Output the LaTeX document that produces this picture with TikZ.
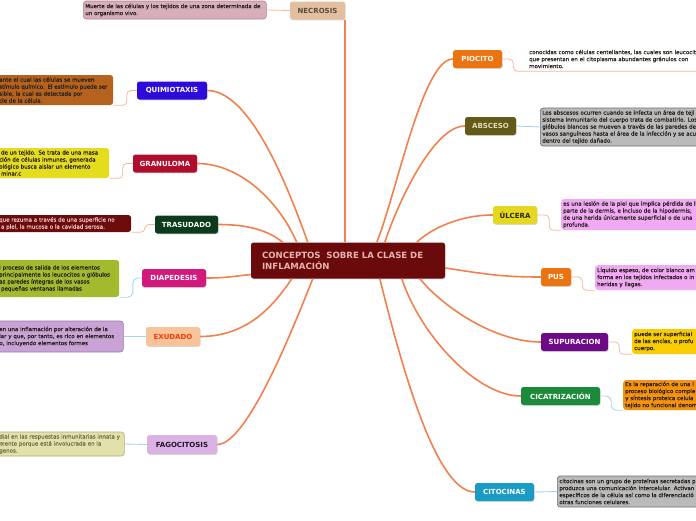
\documentclass[tikz,border=0pt]{standalone}
\usepackage{fontspec}
\setmainfont{DejaVu Sans}
\newfontfamily\notafont{DejaVu Sans}[FakeBold=0.35]
\usetikzlibrary{shadows}

\definecolor{ramaorange}{HTML}{F2804E}
\definecolor{ramitaorange}{HTML}{F7B697}
\definecolor{ramitablue}{HTML}{A6D4EF}
\definecolor{notatexto}{HTML}{221E1A}
\definecolor{centrofondo}{HTML}{6B0A0A}
\definecolor{centrotexto}{HTML}{E6B2B2}
\definecolor{necrosisfondo}{HTML}{E2BF9E}
\definecolor{necrosistexto}{HTML}{5A4C42}
\definecolor{necrosisnota}{HTML}{D9AEBB}
\definecolor{necrosisborde}{HTML}{B07F8E}
\definecolor{quimiofondo}{HTML}{2C0BDB}
\definecolor{quimionota}{HTML}{B5621F}
\definecolor{granfondo}{HTML}{B00D2E}
\definecolor{grannota}{HTML}{E6DC1E}
\definecolor{trasfondo}{HTML}{0B3B1C}
\definecolor{trasnota}{HTML}{6C0B0B}
\definecolor{trastexto}{HTML}{EFC6C6}
\definecolor{diapfondo}{HTML}{D21A7C}
\definecolor{diapnota}{HTML}{A2BA2E}
\definecolor{exudfondo}{HTML}{F7C499}
\definecolor{exudtexto}{HTML}{F53A0A}
\definecolor{exudnota}{HTML}{C9A3D6}
\definecolor{exudborde}{HTML}{9A78AC}
\definecolor{fagofondo}{HTML}{D9B3E3}
\definecolor{fagotexto}{HTML}{2A0E30}
\definecolor{fagonota}{HTML}{E2E1AA}
\definecolor{fagoborde}{HTML}{AFAE78}
\definecolor{fagonotatexto}{HTML}{6E6E4E}
\definecolor{piofondo}{HTML}{EB7411}
\definecolor{abscfondo}{HTML}{615A19}
\definecolor{absctexto}{HTML}{E3DDB5}
\definecolor{grisnota}{HTML}{BABABA}
\definecolor{grisborde}{HTML}{6E6E6E}
\definecolor{ulcfondo}{HTML}{E5D820}
\definecolor{ulctexto}{HTML}{2A2A00}
\definecolor{rosanota}{HTML}{F2A9F4}
\definecolor{supufondo}{HTML}{6E0A87}
\definecolor{supunota}{HTML}{FACC03}
\definecolor{cicafondo}{HTML}{1B8A3B}
\definecolor{cicanota}{HTML}{F7920E}
\definecolor{citofondo}{HTML}{1A9BC4}

\begin{document}
\begin{tikzpicture}[x=1pt, y=-1pt, line join=round,
    concepto/.style={rounded corners=2.5pt, minimum height=18pt, inner sep=1pt, text=white,
      font=\fontsize{7}{8}\selectfont\bfseries,
      drop shadow={shadow xshift=0.7pt, shadow yshift=-0.9pt, opacity=0.3}},
    nota/.style={rounded corners=3pt, anchor=west, align=left, inner xsep=2pt, inner ysep=1.5pt,
      text=notatexto, font=\notafont\fontsize{5.5}{7}\selectfont},
    rama/.style={draw=ramaorange, line width=1.6pt},
    ramita/.style={draw=ramitaorange, line width=0.8pt, rounded corners=4pt},
    ramitaazul/.style={draw=ramitablue, line width=0.9pt, rounded corners=5pt}]
    \useasboundingbox (0,0) rectangle (696,520);
    \clip (0,0) rectangle (696,520);

    \node[concepto, fill=centrofondo, text=centrotexto, minimum width=194pt, minimum height=36pt,
      text width=172pt, align=left, font=\fontsize{8.6}{11}\selectfont\bfseries]
      (centro) at (348,260.5) {CONCEPTOS\ \ SOBRE LA CLASE DE\\INFLAMACIÓN};

    \node[concepto, fill=necrosisfondo, text=necrosistexto, minimum width=55pt] (necrosis) at (317.5,10.5) {NECROSIS};
    \node[concepto, fill=quimiofondo, minimum width=70pt] (quimiotaxis) at (172,90.5) {QUIMIOTAXIS};
    \node[concepto, fill=granfondo, minimum width=64pt] (granuloma) at (165,163.5) {GRANULOMA};
    \node[concepto, fill=trasfondo, minimum width=63pt] (trasudado) at (186.5,224.5) {TRASUDADO};
    \node[concepto, fill=diapfondo, minimum width=64pt] (diapedesis) at (174,278) {DIAPEDESIS};
    \node[concepto, fill=exudfondo, text=exudtexto, minimum width=54pt, minimum height=19pt] (exudado) at (173,336.5) {EXUDADO};
    \node[concepto, fill=fagofondo, text=fagotexto, minimum width=70pt, minimum height=19pt] (fagocitosis) at (182,444.5) {FAGOCITOSIS};
    \node[concepto, fill=piofondo, minimum width=49pt] (piocito) at (477.5,59) {PIOCITO};
    \node[concepto, fill=abscfondo, text=absctexto, minimum width=51pt] (absceso) at (490.5,126) {ABSCESO};
    \node[concepto, fill=ulcfondo, text=ulctexto, minimum width=44pt] (ulcera) at (515,215) {ÚLCERA};
    \node[concepto, fill=piofondo, minimum width=30pt] (pus) at (556,277) {PUS};
    \node[concepto, fill=supufondo, minimum width=67pt] (supuracion) at (574.5,342) {SUPURACION};
    \node[concepto, fill=cicafondo, minimum width=79pt] (cicatrizacion) at (560.5,396) {CICATRIZACIÓN};
    \node[concepto, fill=citofondo, minimum width=59pt] (citocinas) at (504.5,492) {CITOCINAS};

    \node[nota, fill=necrosisnota, draw=necrosisborde, line width=0.6pt, text width=179pt, minimum height=18pt]
      (necrosisnota) at (83,10) {Muerte de las células y los tejidos de una zona determinada de\\un organismo vivo.};
    \node[nota, fill=quimionota, text width=112pt, minimum height=30pt]
      (quimiotaxisnota) at (-3,90) {ante el cual las células se mueven\\stímulo químico. El estímulo puede ser\\sible, la cual es detectada por\\cie de la célula.};
    \node[nota, fill=grannota, text width=108pt, minimum height=30pt]
      (granulomanota) at (-3,163) {\ de un tejido. Se trata de una masa\\ción de células inmunes, generada\\ológico busca aislar un elemento\\\ minar.c};
    \node[nota, fill=trasnota, text=trastexto, text width=130pt, minimum height=17pt]
      (trasudadonota) at (-3,223.5) {que rezuma a través de una superficie no\\\ a piel, la mucosa o la cavidad serosa.};
    \node[nota, fill=diapnota, text width=118pt, minimum height=37pt]
      (diapedesisnota) at (-3,278.5) {l proceso de salida de los elementos\\principalmente los leucocitos o glóbulos\\as paredes íntegras de los vasos\\\ pequeñas ventanas llamadas};
    \node[nota, fill=exudnota, draw=exudborde, line width=0.6pt, text width=122pt, minimum height=31pt]
      (exudadonota) at (-3,336.5) {en una inflamación por alteración de la\\lar y que, por tanto, es rico en elementos\\o, incluyendo elementos formes};
    \node[nota, fill=fagonota, draw=fagoborde, line width=0.6pt, text=fagonotatexto, text width=123pt, minimum height=24pt]
      (fagocitosisnota) at (-3,444) {dial en las respuestas inmunitarias innata y\\mente porque está involucrada en la\\genos.};
    \node[nota, text width=210pt, minimum height=24pt]
      (piocitonota) at (527,59) {conocidas como células centellantes, las cuales son leucocitos\\que presentan en el citoplasma abundantes gránulos con\\movimiento.};
    \node[nota, fill=grisnota, draw=grisborde, line width=0.7pt, text width=210pt, minimum height=38pt]
      (abscesonota) at (540,127) {Los abscesos ocurren cuando se infecta un área de teji\\sistema inmunitario del cuerpo trata de combatirlo. Los\\glóbulos blancos se mueven a través de las paredes de\\vasos sanguíneos hasta el área de la infección y se acu\\dentro del tejido dañado.};
    \node[nota, fill=rosanota, text width=210pt, minimum height=31pt]
      (ulceranota) at (561,214.5) {es una lesión de la piel que implica pérdida de l\\parte de la dermis, e incluso de la hipodermis;\\de una herida únicamente superficial o de una\\profunda.};
    \node[nota, fill=rosanota, text width=210pt, minimum height=25pt]
      (pusnota) at (595,277.5) {Líquido espeso, de color blanco am\\forma en los tejidos infectados o in\\heridas y llagas.};
    \node[nota, fill=supunota, text width=210pt, minimum height=25pt]
      (supuracionnota) at (632,341.5) {puede ser superficial\\de las encías, o profu\\cuerpo.};
    \node[nota, fill=cicanota, text width=210pt, minimum height=30pt]
      (cicatrizacionnota) at (623,395) {Es la reparación de una l\\proceso biológico comple\\y síntesis proteica celula\\tejido no funcional denom};
    \node[nota, fill=grisnota, draw=grisborde, line width=0.7pt, text width=210pt, minimum height=31pt]
      (citocinasnota) at (557,491.5) {citocinas son un grupo de proteínas secretadas p\\produzca una comunicación intercelular. Activan\\específicos de la célula así como la diferenciació\\otras funciones celulares.};

    \draw[rama] (necrosis.south east) -- (necrosis.south east |- centro.north);
    \draw[rama] (quimiotaxis.east) .. controls +(40,0) and +(-25,-70) .. ([xshift=57pt]centro.north west);
    \draw[rama] (granuloma.east) .. controls +(40,0) and +(-20,-45) .. ([xshift=46pt]centro.north west);
    \draw[rama] (trasudado.east) .. controls +(30,0) and +(-15,-12) .. ([xshift=32pt]centro.north west);
    \draw[rama] (diapedesis.east) .. controls +(20,0) and +(-20,2) .. ([yshift=-14pt]centro.west);
    \draw[rama] (exudado.east) .. controls +(45,0) and +(-20,30) .. ([xshift=41pt]centro.south west);
    \draw[rama] (fagocitosis.east) .. controls +(30,0) and +(-20,50) .. ([xshift=62pt]centro.south west);
    \draw[rama] (piocito.west) .. controls +(-30,0) and +(20,-50) .. ([xshift=126pt]centro.north west);
    \draw[rama] (absceso.west) .. controls +(-30,0) and +(15,-45) .. ([xshift=134pt]centro.north west);
    \draw[rama] (ulcera.west) .. controls +(-35,0) and +(12,-12) .. ([xshift=166pt]centro.north west);
    \draw[rama] (pus.west) .. controls +(-40,0) and +(40,6) .. ([yshift=-7.5pt]centro.east);
    \draw[rama] (supuracion.west) .. controls +(-45,0) and +(25,30) .. ([xshift=169pt]centro.south west);
    \draw[rama] (cicatrizacion.west) .. controls +(-45,0) and +(18,55) .. ([xshift=151pt]centro.south west);
    \draw[rama] (citocinas.west) .. controls +(-40,0) and +(20,80) .. ([xshift=129pt]centro.south west);

    \draw[ramita] (necrosis.west) -- (necrosisnota.east);
    \draw[ramita] (quimiotaxis.west) -- ++(-10,0) |- (quimiotaxisnota.south east);
    \draw[ramita] (granuloma.west) -- ++(-10,0) |- (granulomanota.south east);
    \draw[ramita] (trasudado.west) -- ++(-10,0) |- (trasudadonota.south east);
    \draw[ramitaazul] (diapedesis.west) -- ++(-9,0) |- (diapedesisnota.south east);
    \draw[ramitaazul] (exudado.west) -- (exudadonota.east);
    \draw[ramitaazul] (fagocitosis.west) -- (fagocitosisnota.east);
    \draw[ramita] (piocito.east) -- ++(11,0) |- (piocitonota.south east);
    \draw[ramitaazul] (absceso.east) -- (abscesonota.west);
    \draw[ramita] (ulcera.east) -- ++(12,0) |- (ulceranota.south west);
    \draw[ramita] (pus.east) -- ++(11,0) |- (pusnota.south west);
    \draw[ramita] (supuracion.east) -- ++(11,0) |- (supuracionnota.south west);
    \draw[ramitaazul] (cicatrizacion.east) -- ++(11,0) |- (cicatrizacionnota.south west);
    \draw[ramitaazul] (citocinas.east) -- (citocinasnota.west);
\end{tikzpicture}
\end{document}
